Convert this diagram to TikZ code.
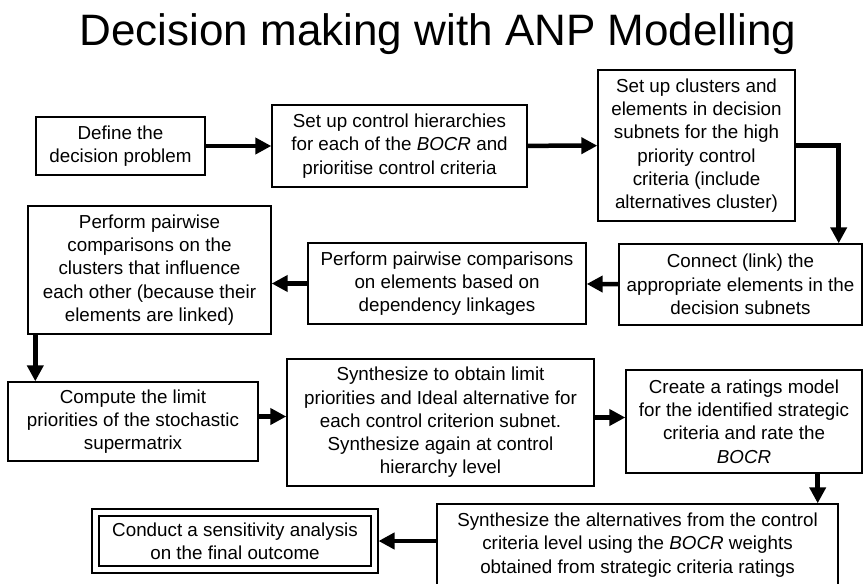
\documentclass[tikz,border=0pt]{standalone}
\usepackage{fontspec}
\setmainfont{Liberation Sans}
\usepackage{tikz}
\usetikzlibrary{arrows.meta}

\begin{document}
\begin{tikzpicture}[x=1pt,y=-1pt]
	\useasboundingbox[fill=white] (0,0) rectangle (866,583);
	\node[font=\fontsize{44}{50}\selectfont,anchor=base,inner sep=0pt] (title) at (438,46) {Decision making with ANP Modelling};

	\begin{scope}[every node/.style={rectangle,draw,line width=1.4pt,align=center,inner sep=0pt,
		font=\fontsize{18.8}{23.3}\selectfont}]
		\node[minimum width=169pt,minimum height=58pt] (define) at (120.5,146) {Define the\\decision problem};
		\node[minimum width=255pt,minimum height=82pt] (hier) at (399.5,146) {Set up control hierarchies\\for each of the \textit{BOCR} and\\prioritise control criteria};
		\node[minimum width=197pt,minimum height=151pt] (subnet) at (696.5,145.5) {Set up clusters and\\elements in decision\\subnets for the high\\priority control\\criteria (include\\alternatives cluster)};
		\node[minimum width=243pt,minimum height=81pt] (connect) at (740.5,284.5) {Connect (link) the\\appropriate elements in the\\decision subnets};
		\node[minimum width=278pt,minimum height=81pt] (elem) at (447,283.5) {Perform pairwise comparisons\\on elements based on\\dependency linkages};
		\node[minimum width=243pt,minimum height=128pt] (clust) at (149.5,270) {Perform pairwise\\comparisons on the\\clusters that influence\\each other (because their\\elements are linked)};
		\node[minimum width=250pt,minimum height=79pt] (limit) at (133,421.5) {Compute the limit\\priorities of the stochastic\\supermatrix};
		\node[minimum width=307pt,minimum height=127pt] (synth) at (440.5,422.5) {Synthesize to obtain limit\\priorities and Ideal alternative for\\each control criterion subnet.\\Synthesize again at control\\hierarchy level};
		\node[minimum width=236pt,minimum height=103pt] (rate) at (744,421.5) {Create a ratings model\\for the identified strategic\\criteria and rate the\\\textit{BOCR}};
		\node[minimum width=401pt,minimum height=82pt] (alt) at (637.5,545) {Synthesize the alternatives from the control\\criteria level using the \textit{BOCR} weights\\obtained from strategic criteria ratings};
		\node[double,double distance=5.7pt,outer sep=4pt,minimum width=279pt,minimum height=57pt] (sens) at (235,541) {Conduct a sensitivity analysis\\on the final outcome};
	\end{scope}

	\begin{scope}[>={Triangle[length=16pt,width=16pt]},line width=4.5pt]
		\draw[->] (define) -- (hier);
		\draw[->] (hier) -- (subnet);
		\draw[->] (subnet.east) -| ([xshift=-24pt]connect.north east);
		\draw[->] (connect) -- (elem);
		\draw[->] (elem.west) -- (elem.west -| clust.east);
		\draw[->] ([xshift=8pt]clust.south west) -- ([xshift=8pt]clust.south west |- limit.north);
		\draw[->] ([yshift=5pt]limit.east) -- ([yshift=5pt]limit.east -| synth.west);
		\draw[->] ([yshift=5pt]synth.east) -- ([yshift=5pt]synth.east -| rate.west);
		\draw[->] ([xshift=-45pt]rate.south east) -- ([xshift=-45pt]rate.south east |- alt.north);
		\draw[->] (alt.west |- sens.east) -- (sens.east);
	\end{scope}
\end{tikzpicture}
\end{document}
